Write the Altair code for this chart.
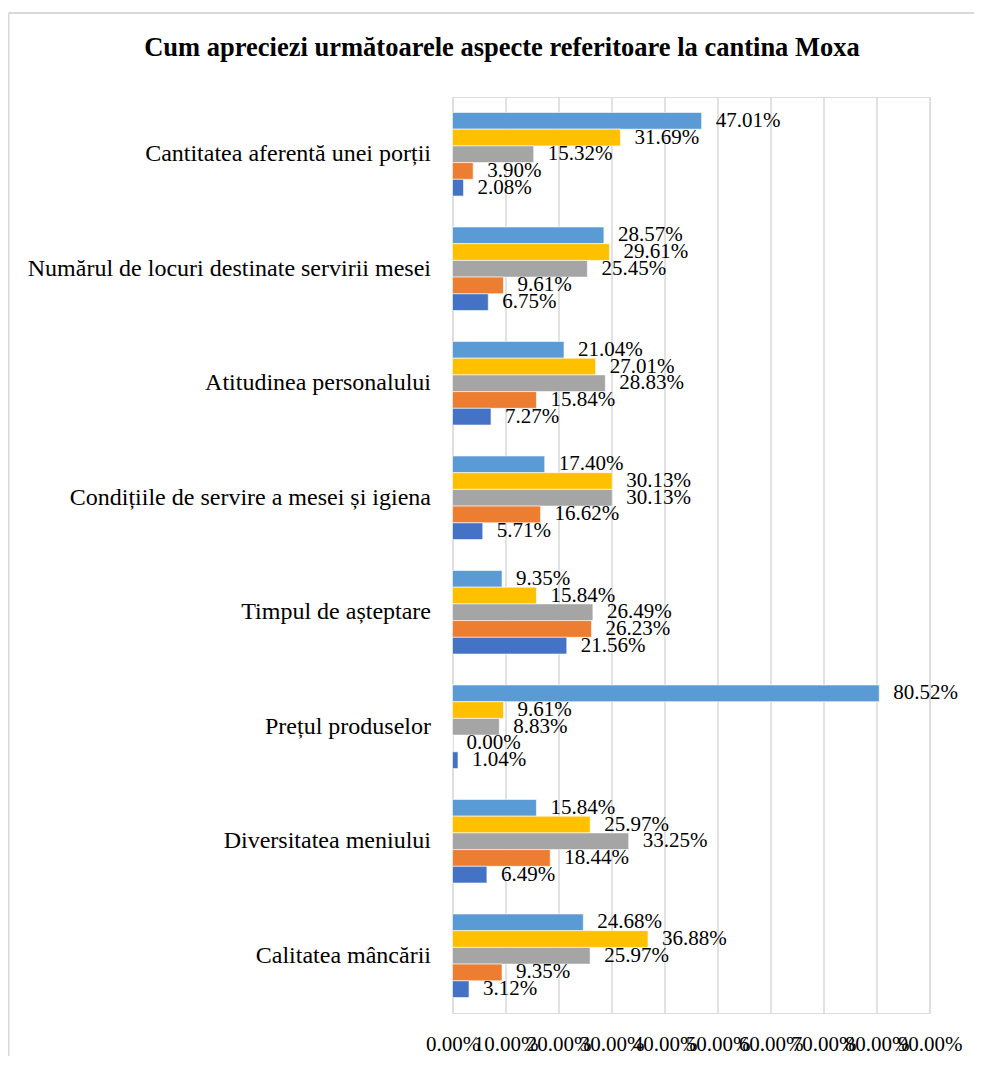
import altair as alt
import pandas as pd

categories = [
    "Cantitatea aferentă unei porții",
    "Numărul de locuri destinate servirii mesei",
    "Atitudinea personalului",
    "Condițiile de servire a mesei și igiena",
    "Timpul de așteptare",
    "Prețul produselor",
    "Diversitatea meniului",
    "Calitatea mâncării",
]
series = ["Seria 1", "Seria 2", "Seria 3", "Seria 4", "Seria 5"]
colors = ["#5B9BD5", "#FFC000", "#A5A5A5", "#ED7D31", "#4472C4"]
title_text = ["Cum apreciezi următoarele aspecte referitoare la cantina Moxa"]

s1 = [47.01, 28.57, 21.04, 17.40, 9.35, 80.52, 15.84, 24.68]
s2 = [31.69, 29.61, 27.01, 30.13, 15.84, 9.61, 25.97, 36.88]
s3 = [15.32, 25.45, 28.83, 30.13, 26.49, 8.83, 33.25, 25.97]
s4 = [3.90, 9.61, 15.84, 16.62, 26.23, 0.00, 18.44, 9.35]
s5 = [2.08, 6.75, 7.27, 5.71, 21.56, 1.04, 6.49, 3.12]

rows = []
for name, vals in zip(series, [s1, s2, s3, s4, s5]):
    for cat, v in zip(categories, vals):
        rows.append({"cat": cat, "serie": name, "val": v / 100.0})
df = pd.DataFrame(rows)

FONT = "'Liberation Serif', 'Times New Roman', Times, serif"
W, H = 477, 916

base = alt.Chart(df).encode(
    y=alt.Y(
        "cat:N",
        sort=categories,
        title=None,
        scale=alt.Scale(paddingInner=0.27, paddingOuter=0.135),
        axis=alt.Axis(
            ticks=False,
            domain=False,
            grid=False,
            labelFont=FONT,
            labelFontSize=24,
            labelColor="#000000",
            labelPadding=22,
            labelLimit=460,
        ),
    ),
    yOffset=alt.YOffset("serie:N", sort=series, scale=alt.Scale(paddingInner=0, paddingOuter=0)),
)

bars = base.mark_bar(stroke="#ffffff", strokeWidth=0.6).encode(
    x=alt.X(
        "val:Q",
        title=None,
        scale=alt.Scale(domain=[0, 0.9], nice=False),
        axis=alt.Axis(
            values=[0, 0.1, 0.2, 0.3, 0.4, 0.5, 0.6, 0.7, 0.8, 0.9],
            format=".2%",
            ticks=False,
            domain=False,
            grid=True,
            gridColor="#D9D9D9",
            gridWidth=1.5,
            labelFont=FONT,
            labelFontSize=21,
            labelColor="#000000",
            labelPadding=20,
            labelOverlap=False,
            labelFlush=False,
        ),
    ),
    color=alt.Color("serie:N", sort=series, scale=alt.Scale(domain=series, range=colors), legend=None),
)

labels = base.mark_text(align="left", baseline="middle", dx=14, font=FONT, fontSize=21, color="#000000").encode(
    x=alt.X("val:Q"),
    text=alt.Text("val:Q", format=".2%"),
)

frame_df = pd.DataFrame({"k": [0]})
top_line = alt.Chart(frame_df).mark_rule(color="#D9D9D9", strokeWidth=2).encode(
    x=alt.value(-444), x2=alt.value(530), y=alt.value(-84)
)
left_line = alt.Chart(frame_df).mark_rule(color="#D9D9D9", strokeWidth=2).encode(
    x=alt.value(-444), y=alt.value(-84), y2=alt.value(1000)
)

title_df = pd.DataFrame({"t": title_text})
title = alt.Chart(title_df).mark_text(
    align="center", baseline="middle", font=FONT, fontSize=26.5, fontWeight="bold", color="#000000"
).encode(x=alt.value(49.5), y=alt.value(-49), text="t:N")

chart = (
    alt.layer(top_line, left_line, title, bars, labels)
    .properties(
        width=W,
        height=H,
        autosize=alt.AutoSizeParams(type="none"),
        padding={"left": 444.5, "top": 89, "right": 44.5, "bottom": 43},
    )
    .configure_view(stroke=None)
    .configure(background="#ffffff")
)

chart.save("out.html", embed_options={"renderer": "svg", "actions": False})
